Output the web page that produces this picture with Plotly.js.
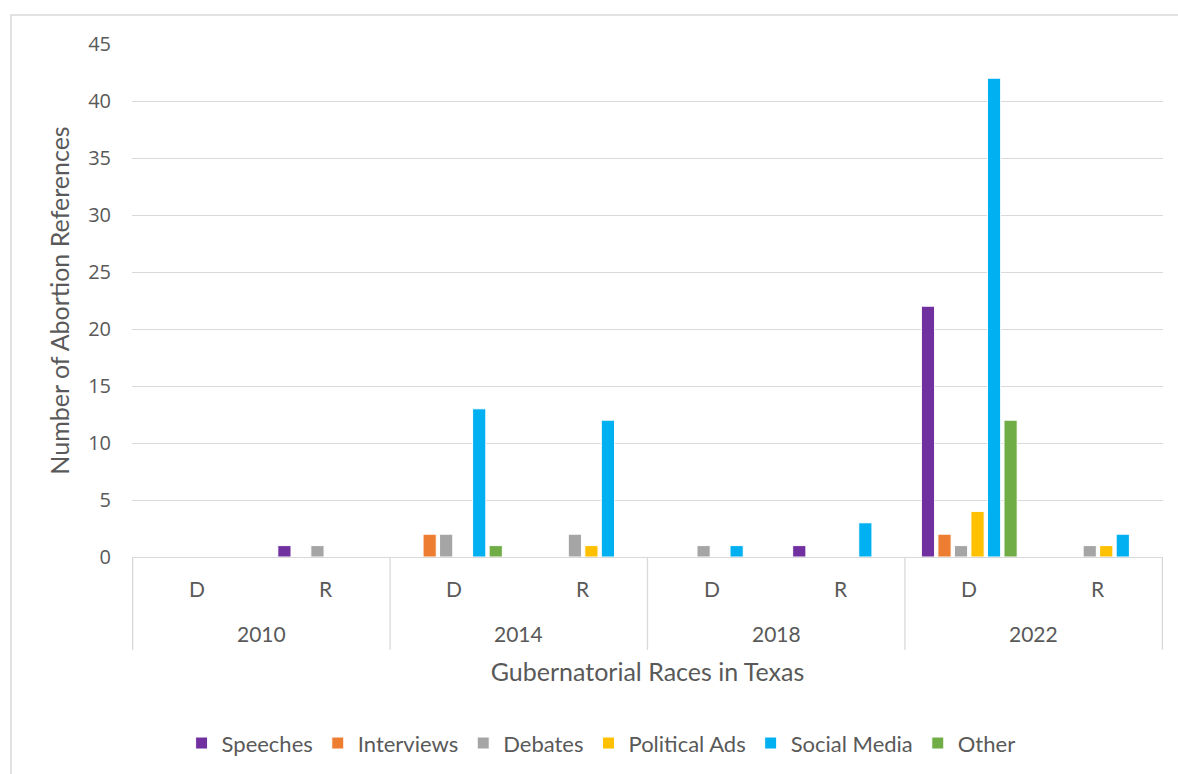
<!DOCTYPE html>
<html>
<head>
<meta charset="utf-8">
<script src="https://cdn.plot.ly/plotly-3.0.1.min.js"></script>
<style>html,body{margin:0;padding:0;background:#fff;}#chart{width:1178px;height:774px;}</style>
</head>
<body>
<div id="chart"></div>
<script>
const years = ["2010", "2014", "2018", "2022"];
const parties = ["D", "R"];
const seriesNames = ["Speeches", "Interviews", "Debates", "Political Ads", "Social Media", "Other"];
// order: 2010 D, 2010 R, 2014 D, 2014 R, 2018 D, 2018 R, 2022 D, 2022 R
const speeches    = [0, 1, 0, 0, 0, 1, 22, 0];
const interviews  = [0, 0, 2, 0, 0, 0, 2, 0];
const debates     = [0, 1, 2, 2, 1, 0, 1, 1];
const politicalAds= [0, 0, 0, 1, 0, 0, 4, 1];
const socialMedia = [0, 0, 13, 12, 1, 3, 42, 2];
const other       = [0, 0, 1, 0, 0, 0, 12, 0];
const colors = ["#7030A0", "#ED7D31", "#A5A5A5", "#FFC000", "#00B0F0", "#70AD47"];

const cats = [];
const catYear = [];
const catParty = [];
years.forEach(y => parties.forEach(p => { cats.push(y + " " + p); catYear.push(y); catParty.push(p); }));

const values = [speeches, interviews, debates, politicalAds, socialMedia, other];
const traces = values.map((v, i) => ({
  type: "bar",
  name: seriesNames[i],
  x: cats,
  y: v,
  marker: {color: colors[i], line: {color: "#ffffff", width: 1}},
  hoverinfo: "x+y+name"
}));

const textColor = "#595959";
const labelFont = {family: "Lato, 'Open Sans', sans-serif", size: 21, color: textColor};
const annotations = [];
cats.forEach((c, i) => {
  annotations.push({x: c, y: -0.062, xref: "x", yref: "paper", text: catParty[i], showarrow: false,
    font: labelFont, xanchor: "center", yanchor: "middle"});
});
years.forEach((y, j) => {
  annotations.push({x: 2 * j + 0.5, y: -0.150, xref: "x", yref: "paper", text: y, showarrow: false,
    font: labelFont, xanchor: "center", yanchor: "middle"});
});

const shapes = [];
for (let j = 0; j <= years.length; j++) {
  shapes.push({type: "line", xref: "x", yref: "paper", x0: 2 * j - 0.5, x1: 2 * j - 0.5, y0: 0, y1: -0.181,
    line: {color: "#d9d9d9", width: 1.3}});
}
shapes.push({type: "rect", xref: "paper", yref: "paper", x0: -0.1174, x1: 1.03, y0: -0.45, y1: 1.0565,
  line: {color: "#d9d9d9", width: 1.5}, fillcolor: "rgba(0,0,0,0)", layer: "below"});

const layout = {
  width: 1178, height: 774,
  margin: {l: 132, r: 15, t: 44, b: 217, autoexpand: false},
  paper_bgcolor: "#ffffff", plot_bgcolor: "#ffffff",
  barmode: "group", bargap: 0.23, bargroupgap: 0.2,
  font: {family: "Lato, 'Open Sans', sans-serif", color: textColor},
  xaxis: {
    type: "category", showticklabels: false, ticks: "", showgrid: false, automargin: false,
    showline: true, linecolor: "#d9d9d9", linewidth: 1.3, zeroline: false,
    title: {text: "Gubernatorial Races in Texas", font: {size: 25, color: textColor}, standoff: 106}
  },
  yaxis: {
    range: [0, 45], dtick: 5, tick0: 0, ticks: "", showline: false, automargin: false,
    gridcolor: "#d9d9d9", gridwidth: 1.3, zeroline: false,
    tickfont: {family: "'Open Sans', sans-serif", size: 20, color: textColor},
    ticklabelstandoff: 20,
    title: {text: "Number of Abortion References", font: {size: 25, color: textColor}, standoff: 11}
  },
  legend: {orientation: "h", x: 0.455, xanchor: "center", y: -0.363, yanchor: "middle",
    font: {size: 22, color: textColor}, itemwidth: 20, traceorder: "normal"},
  annotations: annotations,
  shapes: shapes,
  showlegend: true
};

Plotly.newPlot("chart", traces, layout, {displayModeBar: false, responsive: false});
</script>
</body>
</html>
